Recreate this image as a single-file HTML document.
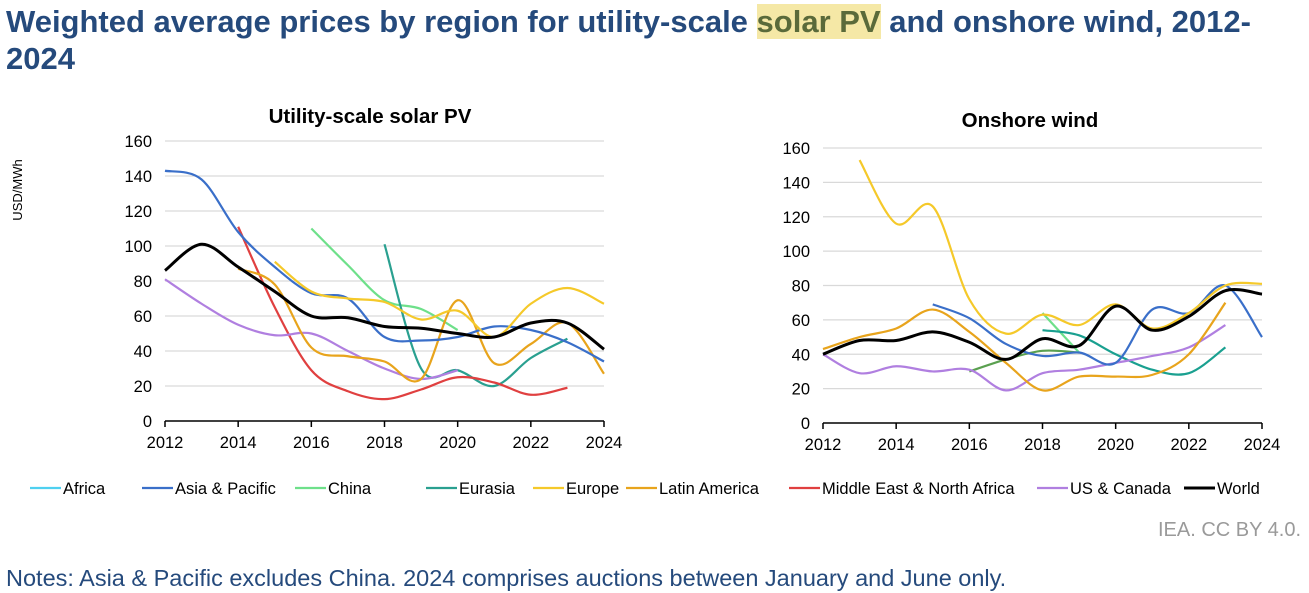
<!DOCTYPE html>
<html><head><meta charset="utf-8"><style>
body{margin:0;width:1309px;height:593px;background:#fff;font-family:"Liberation Sans",sans-serif;overflow:hidden;position:relative}
.t{position:absolute;white-space:nowrap}
</style></head><body>
<div class="t" style="left:6px;top:3px;font-size:31px;font-weight:bold;color:#254a7c;line-height:37px">Weighted average prices by region for utility-scale <span style="background:#f5e8a6;color:#5a6a3a">solar PV</span> and onshore wind, 2012-<br>2024</div>
<div class="t" style="right:8px;top:519px;font-size:20px;color:#9a9a9a">IEA. CC BY 4.0.</div>
<div class="t" style="left:6px;top:565px;font-size:23.5px;color:#254a7c">Notes: Asia &amp; Pacific excludes China. 2024 comprises auctions between January and June only.</div>
<svg id="svg" width="1309" height="593" style="position:absolute;left:0;top:0"></svg>
<script>
const years=[2012,2013,2014,2015,2016,2017,2018,2019,2020,2021,2022,2023,2024];
const yTicks=[0,20,40,60,80,100,120,140,160];
const seriesNames=["Africa","Asia & Pacific","China","Eurasia","Europe","Latin America","Middle East & North Africa","US & Canada","World"];
const seriesColors=["#4fd0f0","#3a6fc9","#6ee08a","#2aa090","#f5c92a","#e8a41c","#e04040","#b07fe0","#000000"];
const N=null;
const solarAfrica=[N,N,N,N,N,N,N,N,N,N,N,N,N];
const solarAsia=[143,138,108,88,73,70,48,46,48,54,52,45,34];
const solarChina=[N,N,N,N,110,89,69,64,52,N,N,N,N];
const solarEurasia=[N,N,N,N,N,N,101,30,29,20,36,47,N];
const solarEurope=[N,N,N,91,74,70,68,58,63,48,67,76,67];
const solarLatam=[N,N,87,78,42,37,34,24,69,33,44,56,27];
const solarMena=[N,N,111,65,29,17,12.5,18,25,22,15,19,N];
const solarUS=[81,67,55,49,50,40,30,24,29,N,N,N,N];
const solarWorld=[86,101,88,74,60,59,54,53,50,48,56,56,41];
const windAfrica=[N,N,N,N,30,37,42,41,N,N,N,N,N];
const windAsia=[N,N,N,69,61,46,39,41,35,66,64,80,50];
const windChina=[N,N,N,N,N,N,64,41,N,N,N,N,N];
const windEurasia=[N,N,N,N,N,N,54,51,40,31,29,44,N];
const windEurope=[N,153,116,126,72,52,63,57,69,55,64,80,81];
const windLatam=[43,50,55,66,53,35,19,27,27,28,40,70,N];
const windMena=[N,N,N,N,N,N,N,N,N,N,N,N,N];
const windUS=[40,29,33,30,31,19,29,31,35,39,44,57,N];
const windWorld=[40,48,48,53,47,37,49,45,68,54,62,77,75];
const windColors=["#5aa050","#3a6fc9","#6ee08a","#1aa090","#f5c92a","#e8a41c","#e04040","#b07fe0","#000000"];

const svg=document.getElementById('svg');
const NS='http://www.w3.org/2000/svg';
function mk(tag,attrs,parent){const e=document.createElementNS(NS,tag);for(const k in attrs)e.setAttribute(k,attrs[k]);(parent||svg).appendChild(e);return e;}
function smooth(pts){
  if(pts.length<2)return '';
  let d='M'+pts[0][0]+','+pts[0][1];
  for(let i=0;i<pts.length-1;i++){
    const p0=pts[i-1]||pts[i],p1=pts[i],p2=pts[i+1],p3=pts[i+2]||p2;
    const t=0.5/3;
    const c1=[p1[0]+(p2[0]-p0[0])*t,p1[1]+(p2[1]-p0[1])*t];
    const c2=[p2[0]-(p3[0]-p1[0])*t,p2[1]-(p3[1]-p1[1])*t];
    d+=' C'+c1[0]+','+c1[1]+' '+c2[0]+','+c2[1]+' '+p2[0]+','+p2[1];
  }
  return d;
}
function chart(name,x0,x1,y0,y1,title,tx,ty,data,colors){
  const g=mk('g',{});
  
  
  const X=v=>x0+(v-years[0])/(years[years.length-1]-years[0])*(x1-x0);
  const Y=v=>y0-v/160*(y0-y1);
  const tt=mk('text',{x:tx,y:ty,'text-anchor':'middle','font-size':20.5,'font-weight':'bold',fill:'#000'},g);
  tt.textContent=title;
  
  
  yTicks.forEach(v=>{
    if(v>0){const l=mk('line',{x1:x0,x2:x1,y1:Y(v),y2:Y(v),stroke:'#d9d9d9','stroke-width':1.2},g);
      
      }
    const t=mk('text',{x:x0-13,y:Y(v)+6,'text-anchor':'end','font-size':16.5,fill:'#000'},g);
    t.textContent=v;
    
    
  });
  const ax=mk('line',{x1:x0,x2:x1,y1:y0,y2:y0,stroke:'#000','stroke-width':1.5},g);
  
  
  years.forEach(yr=>{
    if((yr-2012)%2===0){
      mk('line',{x1:X(yr),x2:X(yr),y1:y0,y2:y0+6,stroke:'#000','stroke-width':1.5},g);
      const t=mk('text',{x:X(yr),y:y0+27,'text-anchor':'middle','font-size':16.5,fill:'#000'},g);
      t.textContent=yr;
      
      
    }
  });
  const order=[0,2,3,6,7,5,1,4,8];
  order.forEach(i=>{
    const arr=data[i];
    let seg=[];const segs=[];
    arr.forEach((v,j)=>{if(v===null){if(seg.length)segs.push(seg);seg=[];}else seg.push([X(years[j]),Y(v)]);});
    if(seg.length)segs.push(seg);
    segs.forEach(s=>{
      const p=mk('path',{d:smooth(s),fill:'none',stroke:colors[i],'stroke-width':i===8?3:2.2,'stroke-linejoin':'round'},g);
      
      
    });
  });
}
chart('solar-chart',165,604,421,141,'Utility-scale solar PV',370,123,[solarAfrica,solarAsia,solarChina,solarEurasia,solarEurope,solarLatam,solarMena,solarUS,solarWorld],seriesColors);
chart('wind-chart',823,1262,423,148,'Onshore wind',1030,127,[windAfrica,windAsia,windChina,windEurasia,windEurope,windLatam,windMena,windUS,windWorld],windColors);
const yl=mk('text',{x:0,y:0,transform:'translate(22,190) rotate(-90)','text-anchor':'middle','font-size':13,fill:'#000'});
yl.textContent='USD/MWh';


const legX=[63,175,328,459,566,659,822,1070,1217];
seriesNames.forEach((n,i)=>{
  const g=mk('g',{});
  
  
  mk('line',{x1:legX[i]-33,x2:legX[i]-2,y1:488,y2:488,stroke:seriesColors[i],'stroke-width':i===8?3:2.2},g);
  const t=mk('text',{x:legX[i],y:494,'font-size':16.5,fill:'#000'},g);
  t.textContent=n;
});
</script>
</body></html>
